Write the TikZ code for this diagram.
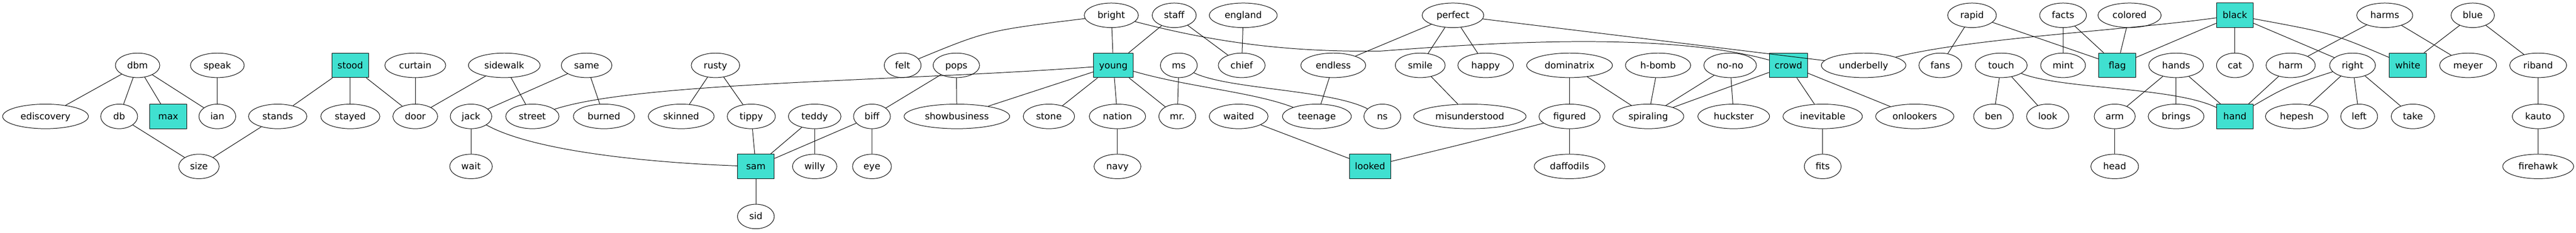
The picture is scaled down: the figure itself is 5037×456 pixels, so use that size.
\documentclass[tikz,border=0pt]{standalone}
\usepackage{fontspec}
\setmainfont{DejaVu Sans}
\usetikzlibrary{shapes.geometric}
\definecolor{turq}{HTML}{40E0D0}
\begin{document}
\begin{tikzpicture}[x=1pt,y=-1pt,line width=1pt,font=\fontsize{18}{22}\selectfont,
	word/.style={draw,ellipse,inner xsep=10.5pt,inner ysep=5.5pt,minimum width=72pt,minimum height=48pt,text height=16pt,text depth=4pt},
	hub/.style={draw,rectangle,fill=turq,inner xsep=10.5pt,inner ysep=5.5pt,minimum width=72pt,minimum height=48pt,text height=16pt,text depth=4pt}]
	\useasboundingbox (0,0) rectangle (5037,456);
	% rows of words
	\foreach \ten/\vtri in {bright/2173,staff/2296,england/2431,perfect/2841,rapid/3856,facts/4034,colored/4164,harms/4663,blue/4835}
	\node[word] (\ten) at (\vtri,30) {\ten};
	\foreach \ten/\vtri in {dbm/269,speak/425,curtain/812,sidewalk/986,same/1147,rusty/1399,felt/1765,pops/1870,ms/2305,chief/2428,endless/2607,smile/2777,happy/2905,dominatrix/3069,underbelly/3644,fans/3794,touch/3913,mint/4034,hands/4255,cat/4370,harm/4479,right/4600,meyer/4826,riband/4963}
	\node[word] (\ten) at (\vtri,128) {\ten};
	\node[word] (hbomb) at (3242,128) {h-bomb};
	\node[word] (nono) at (3383,128) {no-no};
	\foreach \ten/\vtri in {ediscovery/89,db/233,ian/425,stands/543,stayed/685,door/812,jack/921,street/1041,burned/1181,skinned/1332,tippy/1469,teddy/1593,biff/1705,showbusiness/1871,stone/2051,nation/2185,waited/2422,teenage/2575,ns/2703,misunderstood/2874,figured/3069,spiraling/3223,huckster/3390,inevitable/3564,onlookers/3744,ben/3898,look/4004,arm/4135,brings/4255,hepesh/4491,left/4613,take/4718,kauto/4963}
	\node[word] (\ten) at (\vtri,228) {\ten};
	\node[word] (mr) at (2302,228) {mr.};
	\foreach \ten/\vtri in {size/389,wait/921,willy/1593,eye/1705,navy/2185,daffodils/3069,fits/3564,head/4135,firehawk/4963}
	\node[word] (\ten) at (\vtri,326) {\ten};
	\node[word] (sid) at (1478,424) {sid};
	% boxes
	\foreach \ten/\vtri/\hang in {black/4370/30,stood/685/128,young/2177/128,crowd/3497/128,flag/4140/128,white/4708/128,max/329/228,hand/4370/228,sam/1478/326,looked/2679/326}
	\node[hub] (\ten) at (\vtri,\hang) {\ten};
	% straight links
	\foreach \a/\b in {dbm/ediscovery,dbm/db,dbm/max,dbm/ian,speak/ian,db/size,stands/size,stood/stands,stood/stayed,stood/door,curtain/door,sidewalk/door,sidewalk/street,same/jack,same/burned,rusty/skinned,rusty/tippy,jack/wait,tippy/sam,teddy/sam,teddy/willy,biff/sam,sam/sid,pops/biff,pops/showbusiness,biff/eye,bright/young,staff/young,staff/chief,england/chief,young/showbusiness,young/stone,young/nation,young/mr,ms/mr,nation/navy,waited/looked,perfect/endless,perfect/smile,perfect/happy,perfect/underbelly,endless/teenage,smile/misunderstood,dominatrix/figured,dominatrix/spiraling,hbomb/spiraling,figured/daffodils,nono/huckster,nono/spiraling,crowd/spiraling,crowd/inevitable,crowd/onlookers,inevitable/fits,rapid/fans,rapid/flag,facts/mint,facts/flag,colored/flag,black/flag,black/cat,black/right,touch/ben,touch/look,hands/arm,hands/brings,hands/hand,arm/head,harms/harm,harms/meyer,blue/white,blue/riband,harm/hand,right/hepesh,right/left,right/take,riband/kauto,kauto/firehawk}
	\draw (\a)--(\b);
	% bent links
	\draw (street) .. controls (1250,160) and (1750,160) .. (young);
	\draw (jack) .. controls (1050,300) and (1300,320) .. (sam);
	\draw (bright) .. controls (1930,60) .. (felt);
	\draw (bright) .. controls (2400,90) and (2550,102) .. (2700,100) .. controls (2900,85) and (3250,60) .. (crowd);
	\draw (young) .. controls (2320,170) and (2450,180) .. (teenage);
	\draw (ms) .. controls (2400,175) and (2600,175) .. (ns);
	\draw (underbelly) .. controls (3850,75) and (4150,60) .. (black);
	\draw (black) .. controls (4560,65) .. (white);
	\draw (touch) .. controls (4030,175) and (4250,170) .. (hand);
	\draw (right) .. controls (4470,170) .. (hand);
	\draw (figured) .. controls (2870,280) .. (looked);
\end{tikzpicture}
\end{document}
